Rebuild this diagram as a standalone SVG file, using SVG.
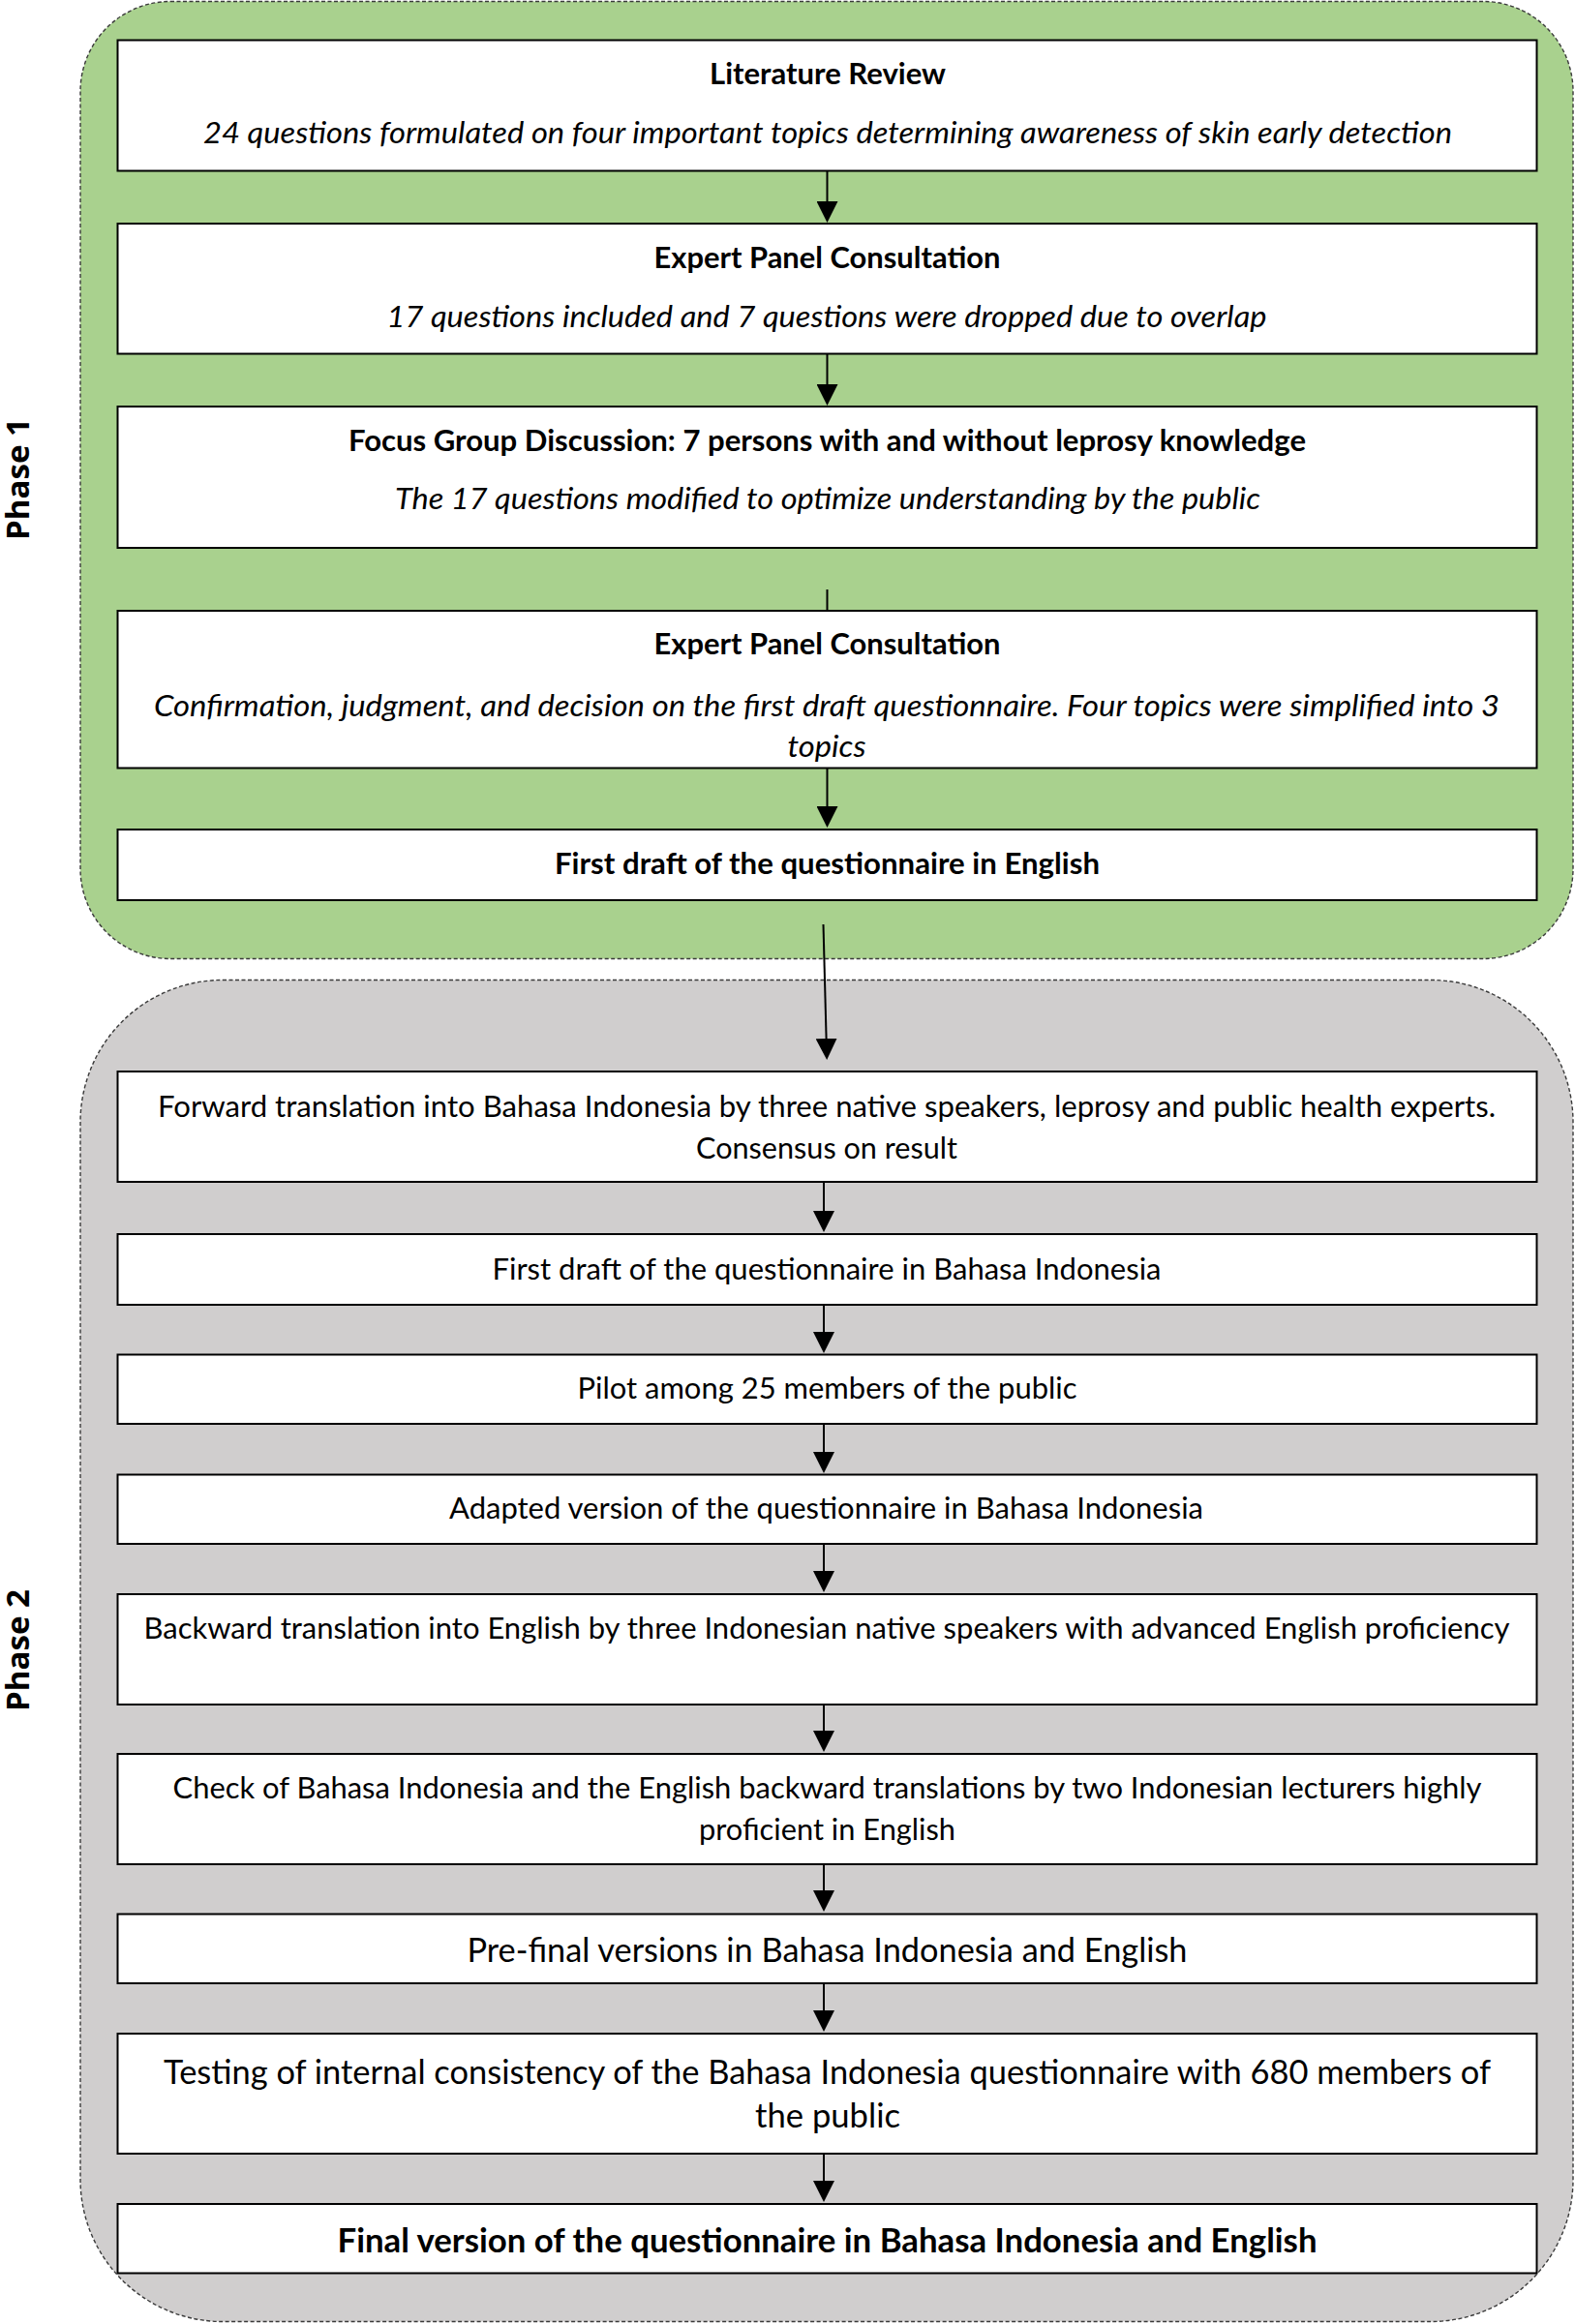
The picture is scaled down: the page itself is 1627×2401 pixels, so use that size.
<svg xmlns="http://www.w3.org/2000/svg" width="1627" height="2401" viewBox="0 0 1627 2401">
<style>
.bg{fill:#ffffff}
.ph1{fill:#a9d18e;stroke:#3a3a3a;stroke-width:1.4;stroke-dasharray:4 2.5}
.ph2{fill:#d0cece;stroke:#3a3a3a;stroke-width:1.4;stroke-dasharray:4 2.5}
.box{fill:#ffffff;stroke:#000000;stroke-width:2}
.t{font-family:Lato,"Liberation Sans",sans-serif;font-size:31px;fill:#000;text-anchor:middle}
.b{font-weight:bold}
.i{font-style:italic}
.L{font-size:35px}
.ph{font-family:"Open Sans","DejaVu Sans",sans-serif;font-weight:bold;font-size:32px;fill:#000;text-anchor:middle}
.c{stroke:#000;stroke-width:2;fill:none}
</style>
<defs>
<marker id="ah" viewBox="0 0 22 22" refX="12" refY="11" markerWidth="22" markerHeight="22" markerUnits="userSpaceOnUse" orient="auto">
<path d="M0,0 L22,11 L0,22 z" fill="#000"/>
</marker>
</defs>
<rect class="bg" x="0" y="0" width="1627" height="2401"/>

<g id="phase1">
<rect class="ph1" x="83" y="1.5" width="1542" height="989" rx="93" ry="93"/>
<text class="ph" transform="translate(29.5,495) rotate(-90)" textLength="126" lengthAdjust="spacingAndGlyphs">Phase 1</text>
</g>
<g id="phase2">
<rect class="ph2" x="83" y="1012.5" width="1542" height="1386" rx="147" ry="147"/>
<text class="ph" transform="translate(29.5,1705) rotate(-90)" textLength="126" lengthAdjust="spacingAndGlyphs">Phase 2</text>
</g>

<g id="connectors">
<path class="c" d="M854.5,177 L854.5,220" marker-end="url(#ah)"/>
<path class="c" d="M854.5,366 L854.5,409" marker-end="url(#ah)"/>
<path class="c" d="M854.5,609 L854.5,631"/>
<path class="c" d="M854.5,794 L854.5,845" marker-end="url(#ah)"/>
<path class="c" d="M850.5,955 L853.9,1085" marker-end="url(#ah)"/>
<path class="c" d="M851,1221 L851,1263" marker-end="url(#ah)"/>
<path class="c" d="M851,1348 L851,1388" marker-end="url(#ah)"/>
<path class="c" d="M851,1471 L851,1512" marker-end="url(#ah)"/>
<path class="c" d="M851,1595 L851,1635" marker-end="url(#ah)"/>
<path class="c" d="M851,1761 L851,1800" marker-end="url(#ah)"/>
<path class="c" d="M851,1926 L851,1965" marker-end="url(#ah)"/>
<path class="c" d="M851,2049 L851,2089" marker-end="url(#ah)"/>
<path class="c" d="M851,2225 L851,2265" marker-end="url(#ah)"/>
</g>

<g id="n1">
<rect class="box" x="121.5" y="41.5" width="1466" height="135"/>
<text class="t b" x="855" y="87" textLength="244" lengthAdjust="spacingAndGlyphs">Literature Review</text>
<text class="t i" x="855" y="148" textLength="1290" lengthAdjust="spacingAndGlyphs">24 questions formulated on four important topics determining awareness of skin early detection</text>
</g>
<g id="n2">
<rect class="box" x="121.5" y="231" width="1466" height="134.5"/>
<text class="t b" x="854.5" y="277" textLength="358" lengthAdjust="spacingAndGlyphs">Expert Panel Consultation</text>
<text class="t i" x="854" y="338" textLength="909" lengthAdjust="spacingAndGlyphs">17 questions included and 7 questions were dropped due to overlap</text>
</g>
<g id="n3">
<rect class="box" x="121.5" y="420" width="1466" height="146"/>
<text class="t b" x="854.5" y="466" textLength="989" lengthAdjust="spacingAndGlyphs">Focus Group Discussion: 7 persons with and without leprosy knowledge</text>
<text class="t i" x="855" y="526" textLength="894" lengthAdjust="spacingAndGlyphs">The 17 questions modified to optimize understanding by the public</text>
</g>
<g id="n4">
<rect class="box" x="121.5" y="631" width="1466" height="162.5"/>
<text class="t b" x="854.5" y="676" textLength="358" lengthAdjust="spacingAndGlyphs">Expert Panel Consultation</text>
<text class="t i" x="854" y="740" textLength="1390" lengthAdjust="spacingAndGlyphs">Confirmation, judgment, and decision on the first draft questionnaire. Four topics were simplified into 3</text>
<text class="t i" x="854" y="782" textLength="81" lengthAdjust="spacingAndGlyphs">topics</text>
</g>
<g id="n5">
<rect class="box" x="121.5" y="857" width="1466" height="73"/>
<text class="t b" x="854.5" y="902.5" textLength="563" lengthAdjust="spacingAndGlyphs">First draft of the questionnaire in English</text>
</g>

<g id="n6">
<rect class="box" x="121.5" y="1107" width="1466" height="114"/>
<text class="t" x="854" y="1153.5" textLength="1382" lengthAdjust="spacingAndGlyphs">Forward translation into Bahasa Indonesia by three native speakers, leprosy and public health experts.</text>
<text class="t" x="854" y="1196.5" textLength="270" lengthAdjust="spacingAndGlyphs">Consensus on result</text>
</g>
<g id="n7">
<rect class="box" x="121.5" y="1275" width="1466" height="73"/>
<text class="t" x="854" y="1321.5" textLength="691" lengthAdjust="spacingAndGlyphs">First draft of the questionnaire in Bahasa Indonesia</text>
</g>
<g id="n8">
<rect class="box" x="121.5" y="1399.5" width="1466" height="71.5"/>
<text class="t" x="854.5" y="1445" textLength="516" lengthAdjust="spacingAndGlyphs">Pilot among 25 members of the public</text>
</g>
<g id="n9">
<rect class="box" x="121.5" y="1523.5" width="1466" height="71.5"/>
<text class="t" x="853.5" y="1569" textLength="779" lengthAdjust="spacingAndGlyphs">Adapted version of the questionnaire in Bahasa Indonesia</text>
</g>
<g id="n10">
<rect class="box" x="121.5" y="1647" width="1466" height="114"/>
<text class="t" x="854" y="1693" textLength="1411" lengthAdjust="spacingAndGlyphs">Backward translation into English by three Indonesian native speakers with advanced English proficiency</text>
</g>
<g id="n11">
<rect class="box" x="121.5" y="1812" width="1466" height="114"/>
<text class="t" x="854.5" y="1858" textLength="1352" lengthAdjust="spacingAndGlyphs">Check of Bahasa Indonesia and the English backward translations by two Indonesian lecturers highly</text>
<text class="t" x="854.5" y="1900.5" textLength="265" lengthAdjust="spacingAndGlyphs">proficient in English</text>
</g>
<g id="n12">
<rect class="box" x="121.5" y="1977.5" width="1466" height="71.5"/>
<text class="t L" x="854.5" y="2027" textLength="744" lengthAdjust="spacingAndGlyphs">Pre-final versions in Bahasa Indonesia and English</text>
</g>
<g id="n13">
<rect class="box" x="121.5" y="2101" width="1466" height="124"/>
<text class="t L" x="854.5" y="2152.5" textLength="1371" lengthAdjust="spacingAndGlyphs">Testing of internal consistency of the Bahasa Indonesia questionnaire with 680 members of</text>
<text class="t L" x="855" y="2198" textLength="150" lengthAdjust="spacingAndGlyphs">the public</text>
</g>
<g id="n14">
<rect class="box" x="121.5" y="2277" width="1466" height="71.5"/>
<text class="t L b" x="854.5" y="2327" textLength="1012" lengthAdjust="spacingAndGlyphs">Final version of the questionnaire in Bahasa Indonesia and English</text>
</g>
</svg>
